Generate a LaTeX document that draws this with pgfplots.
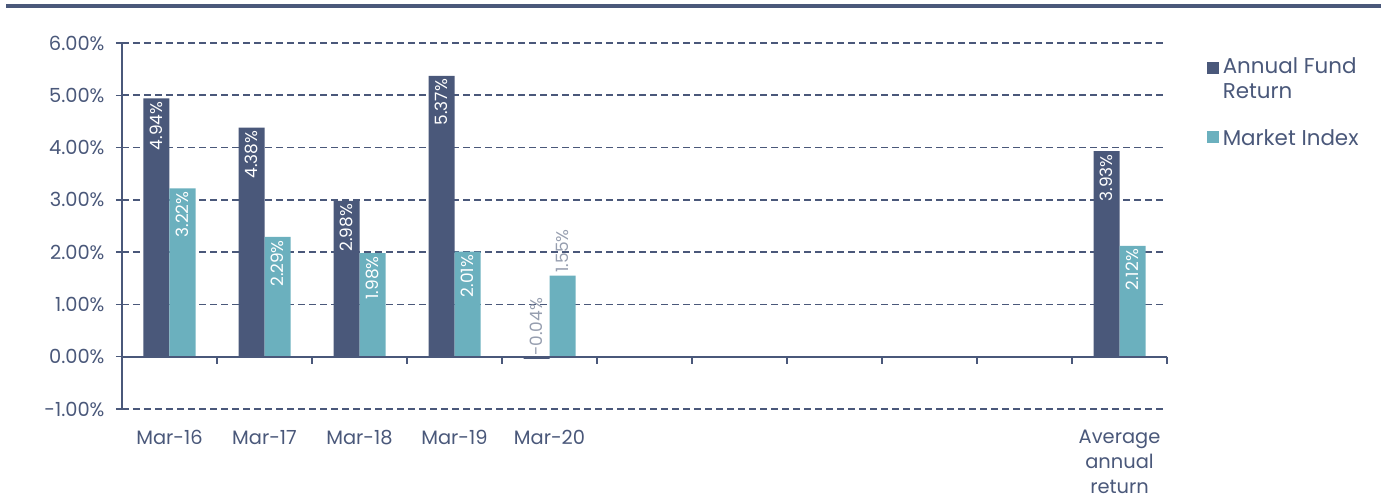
\documentclass[border=0pt]{standalone}
\usepackage{fontspec}
\setmainfont{Poppins}
\usepackage{pgfplots}
\pgfplotsset{compat=1.18}
\definecolor{navy}{RGB}{74,88,122}
\definecolor{teal2}{RGB}{107,176,190}
\definecolor{lblgray}{RGB}{150,158,175}
\begin{document}
\begin{tikzpicture}[x=1bp,y=1bp]
\useasboundingbox (-122,-93) rectangle (1259,409);
\fill[navy] (-116,401) rectangle (1259,405);
\begin{axis}[
  at={(0,0)}, anchor=south west,
  scale only axis, width=1045bp, height=366bp,
  xmin=-0.5, xmax=10.5, ymin=-1, ymax=6,
  clip=false,
  ybar=0pt, bar width=26bp,
  axis x line*=bottom, axis y line*=left,
  x axis line style={draw=none},
  y axis line style={navy, line width=1.6bp, -},
  ytick={-1,0,1,2,3,4,5,6},
  yticklabels={-1.00\%,0.00\%,1.00\%,2.00\%,3.00\%,4.00\%,5.00\%,6.00\%},
  xtick={0,1,2,3,4,5,6,7,8,9,10},
  xticklabels={Mar-16,Mar-17,Mar-18,Mar-19,Mar-20,{},{},{},{},{},{Average\\annual\\return}},
  tick align=outside,
  major tick length=6bp,
  x tick style={draw=none},
  y tick style={navy, line width=1.5bp},
  ymajorgrids,
  major grid style={navy, dash pattern=on 7bp off 4bp, line width=1.6bp},
  tick label style={font=\fontsize{19.5}{25}\selectfont, text=navy},
  x tick label style={align=center, yshift=-12bp},
  y tick label style={xshift=-8bp},
  legend style={at={(1.035,0.971)}, anchor=north west, draw=none, fill=none,
    font=\fontsize{21.5}{25}\selectfont, text=navy, row sep=26bp,
    cells={align=left}},
  legend cell align=left,
  legend image code/.code={\fill[#1, draw=none] (0bp,-4bp) rectangle (12bp,8bp);},
  legend style={nodes={inner xsep=4bp}},
  nodes near coords={\lbl\%},
  visualization depends on={value \thisrow{lbl} \as \lbl},
  visualization depends on={value \thisrow{anc} \as \anc},
  visualization depends on={value \thisrow{col} \as \col},
  every node near coord/.append style={rotate=90, anchor=\anc, text=\col,
    font=\fontsize{17}{20}\selectfont, inner sep=3bp},
]
\addplot[fill=navy, draw=none,
  legend image code/.code={\fill[navy, draw=none] (0bp,5bp) rectangle (12bp,17bp);}] table {
x y lbl anc col
0 4.94 4.94 east white
1 4.38 4.38 east white
2 2.98 2.98 east white
3 5.37 5.37 east white
4 -0.04 -0.04 west lblgray
10 3.93 3.93 east white
};
\addlegendentry{Annual Fund\\Return}
\addplot[fill=teal2, draw=none] table {
x y lbl anc col
0 3.22 3.22 east white
1 2.29 2.29 east white
2 1.98 1.98 east white
3 2.01 2.01 east white
4 1.55 1.55 west lblgray
10 2.12 2.12 east white
};
\addlegendentry{Market Index}
\end{axis}
\draw[navy, line width=1.8bp] (0,52.29) -- (1045,52.29);
\foreach \k in {1,...,11} \draw[navy, line width=1.6bp] (95*\k,52.29) -- ++(0,-7);
\end{tikzpicture}
\end{document}
